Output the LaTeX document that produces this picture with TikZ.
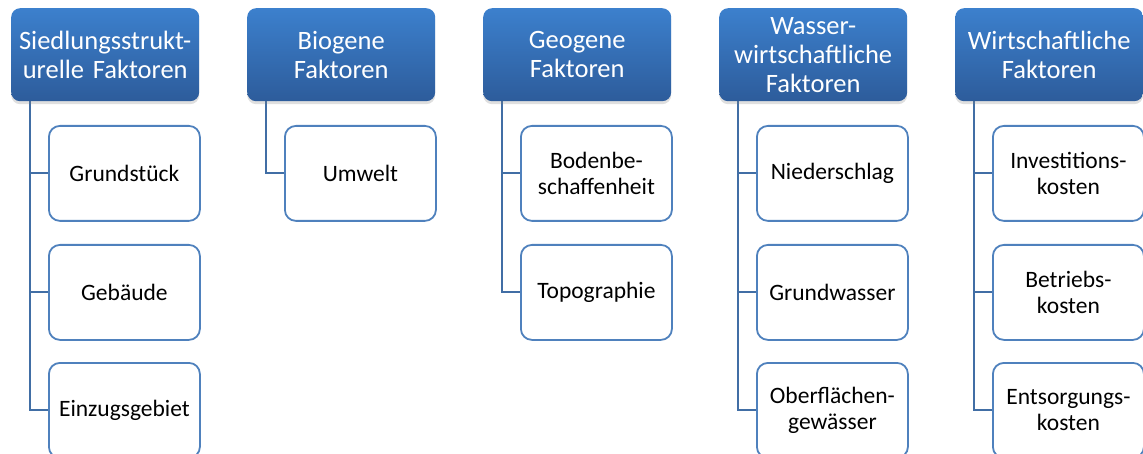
\documentclass[tikz,border=0pt]{standalone}
\usepackage{fontspec}
\setmainfont{Carlito}
\usetikzlibrary{shadows,backgrounds}
\definecolor{htop}{RGB}{60,128,205}
\definecolor{hbot}{RGB}{45,92,155}
\definecolor{cbord}{RGB}{79,129,189}
\definecolor{conn}{RGB}{65,110,165}
\tikzset{
 headbox/.style={rounded corners=9pt, top color=htop, bottom color=hbot, draw=none, text=white,
   minimum width=188pt, minimum height=93pt, text width=182pt, align=center, inner sep=0pt,
   font=\fontsize{26.5}{29}\selectfont, anchor=north west,
   drop shadow={opacity=0.25, shadow xshift=0pt, shadow yshift=-3pt}},
 childbox/.style={rounded corners=11pt, draw=cbord, line width=1.8pt, fill=white,
   minimum width=151pt, minimum height=95pt, text width=145pt, align=center, inner sep=0pt,
   font=\fontsize{23.5}{26}\selectfont, anchor=north west},
 link/.style={draw=conn, line width=2pt}
}
\begin{document}
\begin{tikzpicture}[x=1pt,y=-1pt]
\useasboundingbox (0,0) rectangle (1143,454);
% headers
\node[headbox] (h1) at (11,8) {Siedlungsstrukt-\\urelle Faktoren};
\node[headbox] (h2) at (247,8) {Biogene\\Faktoren};
\node[headbox] (h3) at (483,8) {Geogene\\Faktoren};
\node[headbox] (h4) at (719,8) {Wasser-\\wirtschaftliche\\Faktoren};
\node[headbox] (h5) at (955,8) {Wirtschaftliche\\Faktoren};
% children
\node[childbox] (c11) at (48,125) {Grundstück};
\node[childbox] (c12) at (48,244) {Gebäude};
\node[childbox] (c13) at (48,362) {Einzugsgebiet};
\node[childbox] (c21) at (284,125) {Umwelt};
\node[childbox] (c31) at (520,125) {Bodenbe-\\schaffenheit};
\node[childbox] (c32) at (520,244) {Topographie};
\node[childbox] (c41) at (756,125) {Niederschlag};
\node[childbox] (c42) at (756,244) {Grundwasser};
\node[childbox] (c43) at (756,362) {Oberflächen-\\gewässer};
\node[childbox] (c51) at (992,125) {Investitions-\\kosten};
\node[childbox] (c52) at (992,244) {Betriebs-\\kosten};
\node[childbox] (c53) at (992,362) {Entsorgungs-\\kosten};
% connectors
\begin{scope}[on background layer]
\draw[link] ([xshift=19pt]h1.south west) |- (c11.west);
\draw[link] ([xshift=19pt]h1.south west) |- (c12.west);
\draw[link] ([xshift=19pt]h1.south west) |- (c13.west);
\draw[link] ([xshift=19pt]h2.south west) |- (c21.west);
\draw[link] ([xshift=19pt]h3.south west) |- (c31.west);
\draw[link] ([xshift=19pt]h3.south west) |- (c32.west);
\draw[link] ([xshift=19pt]h4.south west) |- (c41.west);
\draw[link] ([xshift=19pt]h4.south west) |- (c42.west);
\draw[link] ([xshift=19pt]h4.south west) |- (c43.west);
\draw[link] ([xshift=19pt]h5.south west) |- (c51.west);
\draw[link] ([xshift=19pt]h5.south west) |- (c52.west);
\draw[link] ([xshift=19pt]h5.south west) |- (c53.west);
\end{scope}
\end{tikzpicture}
\end{document}
